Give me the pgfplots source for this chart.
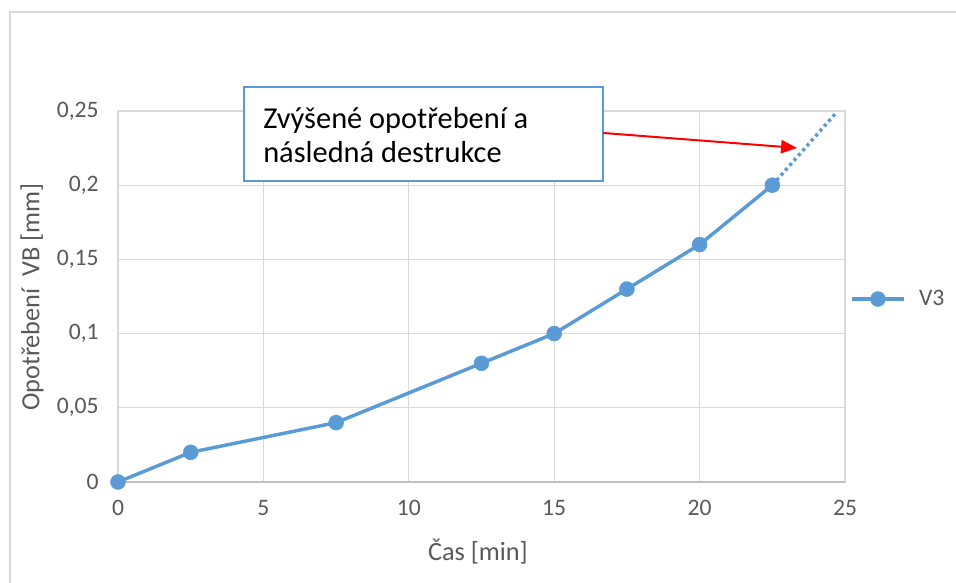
\documentclass[border=0pt]{standalone}
\usepackage{fontspec}
\setmainfont{Carlito}
\usepackage{pgfplots}
\pgfplotsset{compat=1.18}
\usetikzlibrary{arrows.meta}

\definecolor{serieblue}{RGB}{91,155,213}
\definecolor{txtgray}{RGB}{89,89,89}
\definecolor{gridgray}{RGB}{217,217,217}
\definecolor{axgray}{RGB}{191,191,191}

\begin{document}
\begin{tikzpicture}
\begin{axis}[
    scale only axis,
    width=545.25pt, height=278.25pt,
    xmin=0, xmax=25, ymin=0, ymax=0.25,
    xtick={0,5,...,25},
    ytick={0,0.05,0.1,0.15,0.2,0.25},
    yticklabels={0,{0,05},{0,1},{0,15},{0,2},{0,25}},
    /pgf/number format/assume math mode=true,
    grid=major,
    major grid style={draw=gridgray, line width=0.9pt},
    axis line style={draw=gridgray, line width=0.9pt},
    tick style={draw=none},
    tick label style={font=\fontsize{17.7}{20}\selectfont, text=txtgray},
    xticklabel shift=10pt,
    yticklabel shift=11pt,
    xlabel={Čas [min]},
    ylabel={Opotřebení \ VB [mm]},
    label style={font=\fontsize{19.7}{23}\selectfont, text=txtgray},
    xlabel style={at={(axis description cs:0.495,0)}, anchor=center, yshift=-52pt},
    ylabel style={at={(axis description cs:0,0.4987)}, anchor=center, rotate=0, yshift=64.5pt},
    clip=false,
    legend style={at={(axis cs:25.17,0.1233)}, anchor=west, draw=none, fill=none,
        inner sep=0pt, font=\fontsize{17.7}{20}\selectfont, text=txtgray,
        cells={anchor=west}, nodes={inner xsep=10pt}},
    legend image code/.code={
        \draw[#1, mark repeat=2, mark phase=2] plot coordinates {(-3pt,0pt) (16.5pt,0pt) (36pt,0pt)};
    },
]
% image frame
\coordinate (imgSW) at (axis cs:-4.058,-0.06739);
\coordinate (imgNE) at (axis cs:28.817,0.3248);
\draw[gridgray, line width=0.9pt] (axis cs:-3.714,0.3167) rectangle (axis cs:29.30,-0.0795);
\draw[axgray, line width=1pt] (axis cs:0,0) -- (axis cs:25,0);

\addplot[serieblue, line width=2.6pt, mark=*, mark size=5.6pt,
    mark options={solid, fill=serieblue, draw=serieblue, line width=0.4pt}]
    coordinates {(0,0) (2.5,0.02) (7.5,0.04) (12.5,0.08) (15,0.1) (17.5,0.13) (20,0.16) (22.5,0.2)};
\addlegendentry{V3}

\addplot[serieblue, line width=2.6pt, dash pattern=on 2.4pt off 2.5pt, forget plot]
    coordinates {(22.5,0.2) (24.69,0.2487)};

% annotation
\draw[serieblue, line width=1.5pt, fill=white] (axis cs:4.333,0.2662) rectangle (axis cs:16.68,0.2028);
\node[anchor=base west, inner sep=0pt, font=\fontsize{22.8}{26}\selectfont] at (axis cs:4.986,0.2385) {Zvýšené opotřebení a};
\node[anchor=base west, inner sep=0pt, font=\fontsize{22.8}{26}\selectfont] at (axis cs:4.986,0.2150) {následná destrukce};
\draw[red, line width=1.5pt, -{Triangle[length=12pt, width=10pt]}] (axis cs:16.68,0.2352) -- (axis cs:23.35,0.2251);
\end{axis}
\pgfresetboundingbox
\path[use as bounding box] (imgSW) rectangle (imgNE);
\end{tikzpicture}
\end{document}
